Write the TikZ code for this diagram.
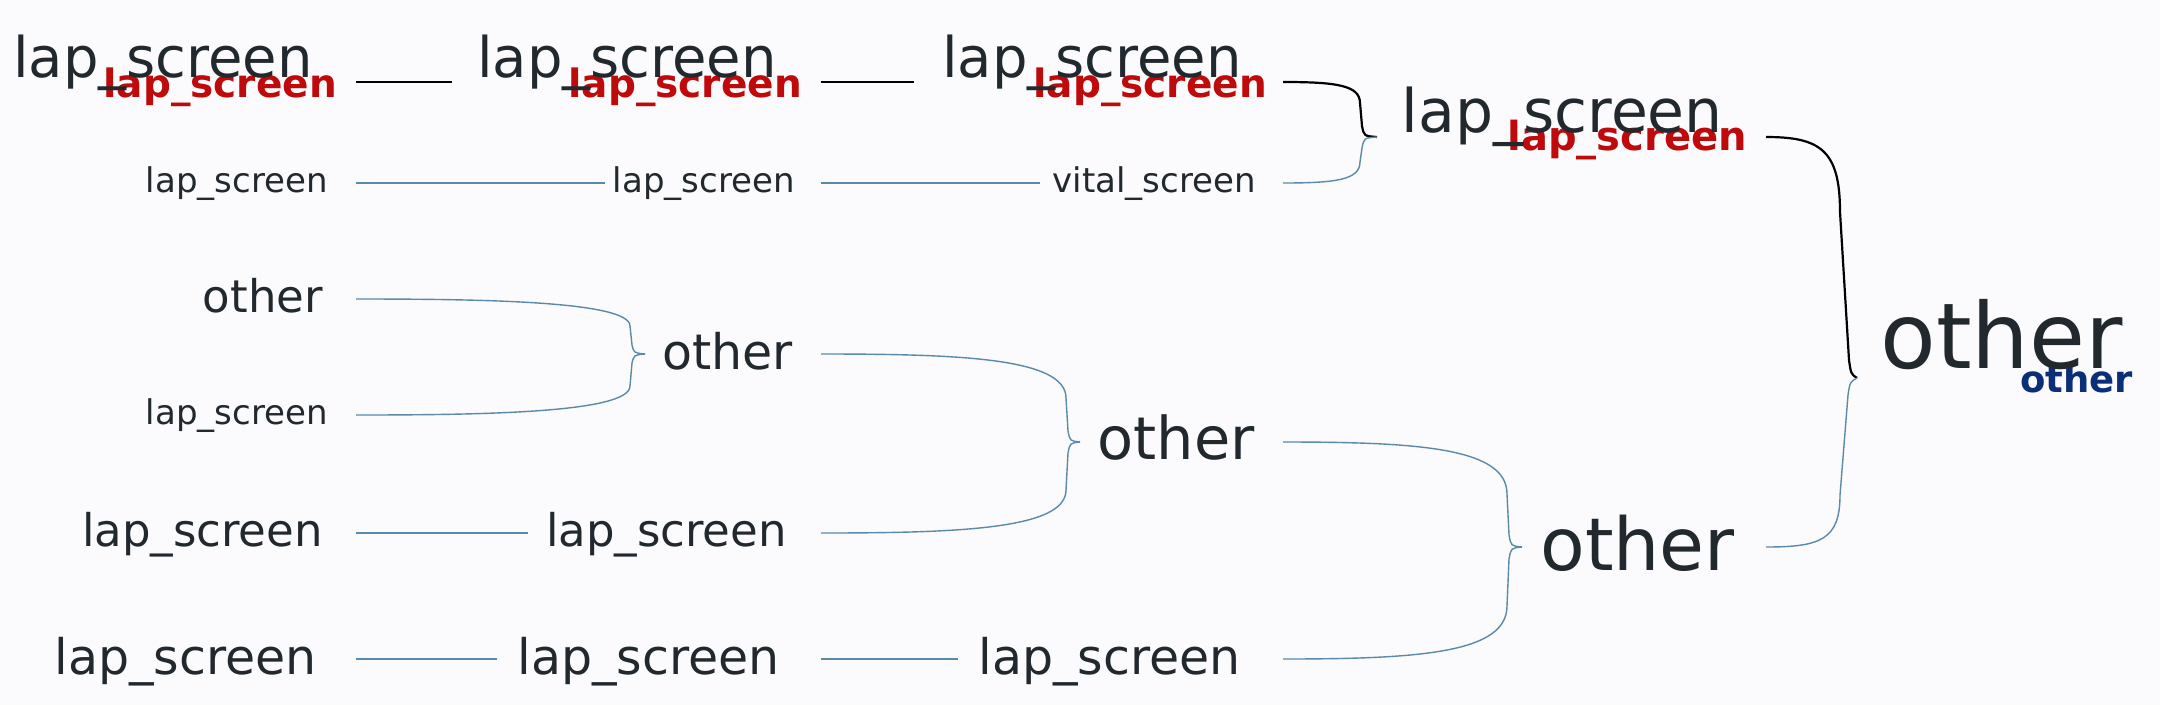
\documentclass[tikz,border=0pt]{standalone}
\usepackage{fontspec}
\setmainfont{DejaVu Sans}
\usepackage{tikz}

\definecolor{bgc}{HTML}{FBFAFD}
\definecolor{txt}{HTML}{22292E}
\definecolor{subred}{HTML}{BE0A0A}
\definecolor{subblue}{HTML}{0A2E78}
\definecolor{edge}{HTML}{5A8AAB}
\newcommand\fs[1]{\fontsize{#1}{#1}\selectfont}
\tikzset{
  lbl/.style={inner sep=0pt, text=txt, anchor=base east},
  sub/.style={inner sep=0pt, text=subred, font=\bfseries\fs{39}, anchor=base east},
  bline/.style={draw=black, line width=2.2pt},
  tline/.style={draw=edge, line width=1.4pt},
}

\begin{document}
\begin{tikzpicture}[x=1pt,y=-1pt]
\fill[bgc] (0,0) rectangle (2160,705);
\useasboundingbox (0,0) rectangle (2160,705);

\node[sub] (a1s) at (337,97) {lap\_screen};
\node[lbl, font=\fs{56}] (a1) at (313,77) {lap\_screen};
\coordinate (a1o) at (356,82);
\node[sub] (a2s) at (802,97) {lap\_screen};
\node[lbl, font=\fs{56}] (a2) at (777,77) {lap\_screen};
\coordinate (a2o) at (821,82);
\node[sub] (a3s) at (1267,97) {lap\_screen};
\node[lbl, font=\fs{56}] (a3) at (1242,77) {lap\_screen};
\coordinate (a3o) at (1283,82);
\draw[bline, shorten >=25pt] (a1o) -- (a2.west |- a1o);
\draw[bline, shorten >=28pt] (a2o) -- (a3.west |- a2o);

\node[lbl, font=\fs{34}] (r2a) at (328,192) {lap\_screen};
\coordinate (r2ao) at (356,183);
\node[lbl, font=\fs{34}] (r2b) at (795,192) {lap\_screen};
\coordinate (r2bo) at (821,183);
\node[lbl, font=\fs{34}] (vital) at (1256,192) {vital\_screen};
\coordinate (vitalo) at (1283,183);
\draw[tline, shorten >=8pt] (r2ao) -- (r2b.west |- r2ao);
\draw[tline, shorten >=12pt] (r2bo) -- (vital.west |- r2bo);

\node[sub, font=\bfseries\fs{40}] (p1s) at (1747,150) {lap\_screen};
\node[lbl, font=\fs{60}] (p1) at (1723,132) {lap\_screen};
\coordinate (p1in) at (1377,137);
\coordinate (p1o) at (1766,137);
\draw[bline] (a3o) .. controls (1335,82) and (1360,85) .. (1360,103) -- (1362,126) .. controls (1364,136) .. (p1in);
\draw[tline] (vitalo) .. controls (1335,183) and (1360,180) .. (1360,162) -- (1362,148) .. controls (1364,138) .. (p1in);

\node[lbl, font=\fs{45}] (r3) at (323,312) {other};
\coordinate (r3o) at (356,299);
\node[lbl, font=\fs{34}] (r4) at (328,424) {lap\_screen};
\coordinate (r4o) at (356,415);
\node[lbl, font=\fs{49}] (m1) at (793,369) {other};
\coordinate (m1in) at (645,354);
\coordinate (m1o) at (821,354);
\draw[tline] (r3o) .. controls (480,299) and (630,301) .. (630,326) -- (632,345) .. controls (634,353) .. (m1in);
\draw[tline] (r4o) .. controls (480,415) and (630,413) .. (630,386) -- (632,363) .. controls (634,355) .. (m1in);

\node[lbl, font=\fs{45}] (r5a) at (323,546) {lap\_screen};
\coordinate (r5ao) at (356,533);
\node[lbl, font=\fs{45}] (r5b) at (787,546) {lap\_screen};
\coordinate (r5bo) at (821,533);
\draw[tline, shorten >=18pt] (r5ao) -- (r5b.west |- r5ao);

\node[lbl, font=\fs{59}] (m2) at (1255,459) {other};
\coordinate (m2in) at (1080,442);
\coordinate (m2o) at (1283,442);
\draw[tline] (m1o) .. controls (960,354) and (1066,358) .. (1066,398) -- (1068,431) .. controls (1070,441) .. (m2in);
\draw[tline] (r5bo) .. controls (960,533) and (1066,529) .. (1066,490) -- (1068,453) .. controls (1070,443) .. (m2in);

\node[lbl, font=\fs{49}] (r6a) at (317,674) {lap\_screen};
\coordinate (r6ao) at (356,659);
\node[lbl, font=\fs{49}] (r6b) at (780,674) {lap\_screen};
\coordinate (r6bo) at (821,659);
\node[lbl, font=\fs{49}] (r6c) at (1241,674) {lap\_screen};
\coordinate (r6co) at (1283,659);
\draw[tline, shorten >=20pt] (r6ao) -- (r6b.west |- r6ao);
\draw[tline, shorten >=20pt] (r6bo) -- (r6c.west |- r6bo);

\node[lbl, font=\fs{73}] (m3) at (1735,570) {other};
\coordinate (m3in) at (1522,547);
\coordinate (m3o) at (1766,547);
\draw[tline] (m2o) .. controls (1420,442) and (1507,448) .. (1507,494) -- (1509,535) .. controls (1511,546) .. (m3in);
\draw[tline] (r6co) .. controls (1420,659) and (1507,653) .. (1507,606) -- (1509,559) .. controls (1511,548) .. (m3in);

\node[sub, text=subblue, font=\bfseries\fs{37}] (roots) at (2133,392) {other};
\node[lbl, font=\fs{91}] (root) at (2123,368) {other};
\coordinate (rootin) at (1857,378);
\draw[bline] (p1o) .. controls (1820,137) and (1840,150) .. (1840,212) -- (1849,360) .. controls (1851,374) .. (rootin);
\draw[tline] (m3o) .. controls (1820,547) and (1840,540) .. (1840,495) -- (1848,395) .. controls (1850,382) .. (rootin);
\end{tikzpicture}
\end{document}
